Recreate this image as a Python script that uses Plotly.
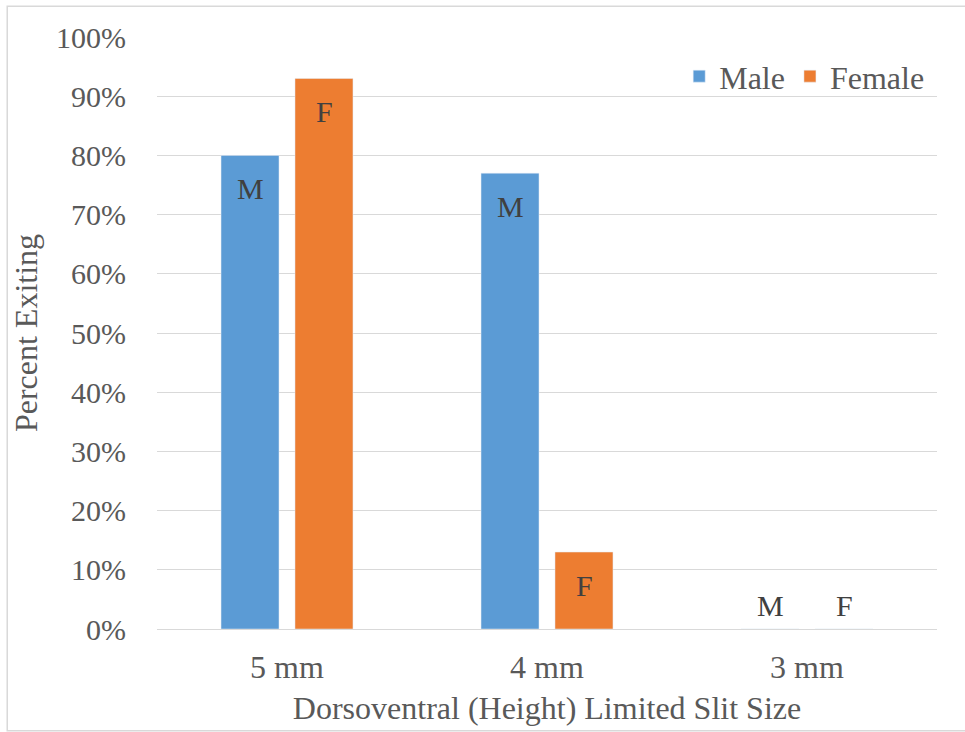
import plotly.graph_objects as go

categories = ["5 mm", "4 mm", "3 mm"]
male = [0.80, 0.77, 0.0]
female = [0.93, 0.13, 0.0]
male_labels = ["M", "M", "M"]
female_labels = ["F", "F", "F"]
y_ticks = [i / 10 for i in range(11)]

BLUE = "#5B9BD5"
ORANGE = "#ED7D31"
FONT = "Liberation Serif, Times New Roman, serif"

fig = go.Figure()
fig.add_trace(go.Bar(name="Male", x=categories, y=male, marker_color=BLUE))
fig.add_trace(go.Bar(name="Female", x=categories, y=female, marker_color=ORANGE))

# letter labels at the top of each bar (above the axis when the bar is empty)
for vals, labels, off in ((male, male_labels, -0.5), (female, female_labels, 0.5)):
    for i, (v, t) in enumerate(zip(vals, labels)):
        fig.add_annotation(
            x=i, xshift=off * 74, y=v, yref="y", xref="x",
            text=t, showarrow=False,
            yanchor="top" if v > 0 else "bottom",
            yshift=-15 if v > 0 else 5,
            font=dict(family=FONT, size=30, color="#404040"),
        )

fig.update_layout(
    width=965, height=732,
    margin=dict(l=157, r=28, t=37, b=103),
    paper_bgcolor="white", plot_bgcolor="white",
    barmode="group", bargap=0.431, bargroupgap=0.216,
    font=dict(family=FONT, size=30, color="#595959"),
    showlegend=True,
    legend=dict(orientation="h", x=0.99, xanchor="right", y=0.98, yanchor="top",
                bgcolor="rgba(0,0,0,0)", font=dict(size=32, color="#595959"),
                itemwidth=30, tracegroupgap=0),
    xaxis=dict(showgrid=False, showline=False, ticks="", ticklabelstandoff=16,
               tickfont=dict(size=32),
               title=dict(text="Dorsoventral (Height) Limited Slit Size", standoff=12,
                          font=dict(size=32, color="#595959"))),
    yaxis=dict(range=[0, 1], tickvals=y_ticks, tickformat=".0%",
               showgrid=True, gridcolor="#D9D9D9", gridwidth=1,
               zeroline=True, zerolinecolor="#D9D9D9", zerolinewidth=1,
               showline=False, ticks="", ticklabelstandoff=30,
               tickfont=dict(size=30),
               title=dict(text="Percent Exiting", standoff=8,
                          font=dict(size=32, color="#595959"))),
    shapes=[dict(type="rect", xref="paper", yref="paper", x0=-0.192, x1=1.06,
                 y0=-0.172, y1=1.052, line=dict(color="#D9D9D9", width=1.5),
                 fillcolor="rgba(0,0,0,0)", layer="below")],
)

fig.write_html("out.html")
